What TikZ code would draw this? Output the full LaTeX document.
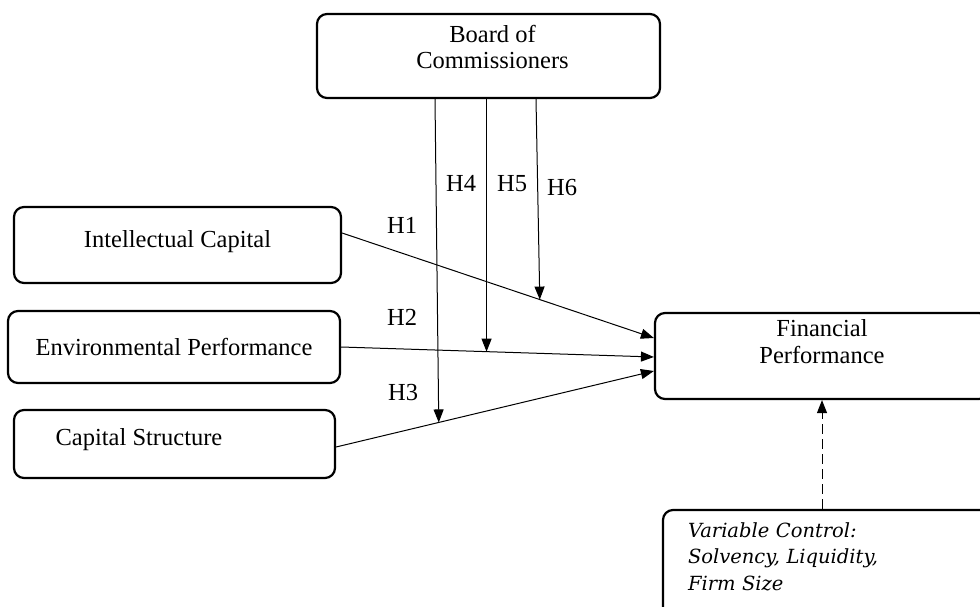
\documentclass[tikz,border=0pt]{standalone}
\usepackage{fontspec}
\setmainfont{Liberation Serif}
\newfontfamily\varfont{DejaVu Serif}
\usetikzlibrary{arrows.meta}
\begin{document}
\begin{tikzpicture}[x=1pt,y=-1pt,
  box/.style={draw, line width=2.2pt, rounded corners=10pt, inner sep=0pt,
    font=\fontsize{24.5}{26}\selectfont},
  conn/.style={line width=1pt, -{Triangle[length=13pt,width=10pt]}},
  hlab/.style={anchor=base west, inner sep=0pt, font=\fontsize{24.5}{26}\selectfont}]
\useasboundingbox (0,0) rectangle (980,607);
\fill[white] (0,0) rectangle (980,607);

\node[box, minimum width=343, minimum height=84, align=center, text depth=18.7pt] (board) at (488.5,56) {\hspace*{8pt}Board of\\\hspace*{8pt}Commissioners};
\node[box, minimum width=327, minimum height=76, text depth=12.7pt] (ic) at (177.5,245) {Intellectual Capital};
\node[box, minimum width=332, minimum height=72] (env) at (174,347) {Environmental Performance};
\node[box, minimum width=321, minimum height=68, text depth=14.7pt] (cs) at (174.5,444) {Capital Structure\hspace*{71pt}};
\node[box, minimum width=334, minimum height=86, align=center, font=\fontsize{24.5}{27}\selectfont, text depth=29.7pt] (fin) at (822,356) {Financial\\Performance};
\node[box, minimum width=330, minimum height=115, text width=280pt, inner xsep=25pt, align=left, text depth=75.8pt,
  font=\varfont\itshape\fontsize{19.5}{26.5}\selectfont] (var) at (828,567.5) {Variable Control:\\Solvency, Liquidity,\\Firm Size};

\draw[conn] ([yshift=12pt]ic.east) -- coordinate[pos=0.634] (h6t) ([yshift=18pt]fin.west);
\draw[conn] (env.east) -- coordinate[pos=0.465] (h5t) ([yshift=-1pt]fin.west);
\draw[conn] ([yshift=-3pt]cs.east) -- coordinate[pos=0.323] (h4t) ([yshift=-15pt]fin.west);

\draw[conn] ([xshift=-53.5pt]board.south) -- (h4t);
\draw[conn] (board.south -| h5t) -- (h5t);
\draw[conn] ([xshift=47.5pt]board.south) -- (h6t);

\draw[line width=1pt, dash pattern=on 10pt off 5pt, -{Triangle[length=13pt,width=10pt]}] (var.north -| fin.south) -- (fin.south);

\node[hlab] (l1) at (387,233) {H1};
\node[hlab] (l2) at (387,325) {H2};
\node[hlab] (l3) at (388,400) {H3};
\node[hlab] (l4) at (446,191) {H4};
\node[hlab] (l5) at (497,191) {H5};
\node[hlab] (l6) at (547,195) {H6};
\end{tikzpicture}
\end{document}
